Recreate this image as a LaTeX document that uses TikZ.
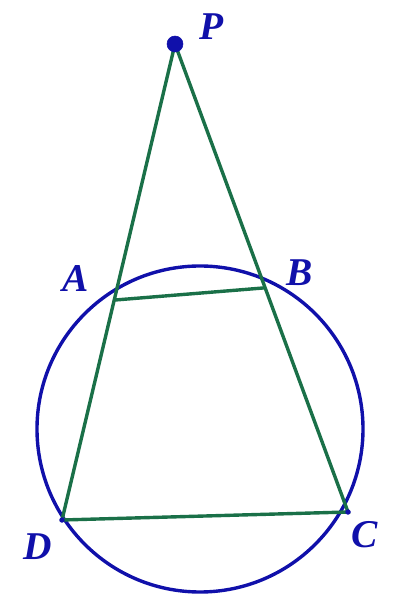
\documentclass[tikz,border=0pt]{standalone}
\usepackage{fontspec}
\setmainfont{Liberation Serif}
\usetikzlibrary{calc}
\definecolor{segGreen}{RGB}{26,112,72}
\definecolor{circBlue}{RGB}{16,16,170}
\tikzset{
	seg/.style={line width=0.85mm, color=segGreen},
	lbl/.style={text=circBlue, font=\fontsize{28}{30}\selectfont\bfseries\itshape, inner sep=0pt}
}

\begin{document}
\begin{tikzpicture}
		%%%%% START %%%%%
		\useasboundingbox (0, 0) rectangle (10.425, 15.125);
		
		\coordinate (O) at (5.0, 4.4);
		\coordinate (P) at (4.375, 14.025);
		\coordinate (D) at (1.55, 2.125);
		\coordinate (C) at (8.7, 2.325);
		\coordinate (A) at ($(P)!0.538!(D)$);
		\coordinate (B) at ($(P)!0.521!(C)$);
		
		\draw[line width=0.85mm, color=circBlue] (O) circle (4.075);
		
		\draw[seg] (P) -- (D) -- (C) -- cycle;
		\draw[seg] (A) -- (B);
		
		\draw[fill=circBlue, color=circBlue] (P) circle (0.2);
		\draw[fill=circBlue, color=circBlue] (D) circle (0.06);
		\draw[fill=circBlue, color=circBlue] (C) circle (0.06);
		
		\node[lbl] (labP) at (5.3, 14.45) {P};
		\node[lbl] (labA) at (1.9, 8.15) {A};
		\node[lbl] (labB) at (7.5, 8.3) {B};
		\node[lbl] (labD) at (0.95, 1.45) {D};
		\node[lbl] (labC) at (9.12, 1.75) {C};
		
		%%%%% END %%%%%
	\end{tikzpicture}
\end{document}
